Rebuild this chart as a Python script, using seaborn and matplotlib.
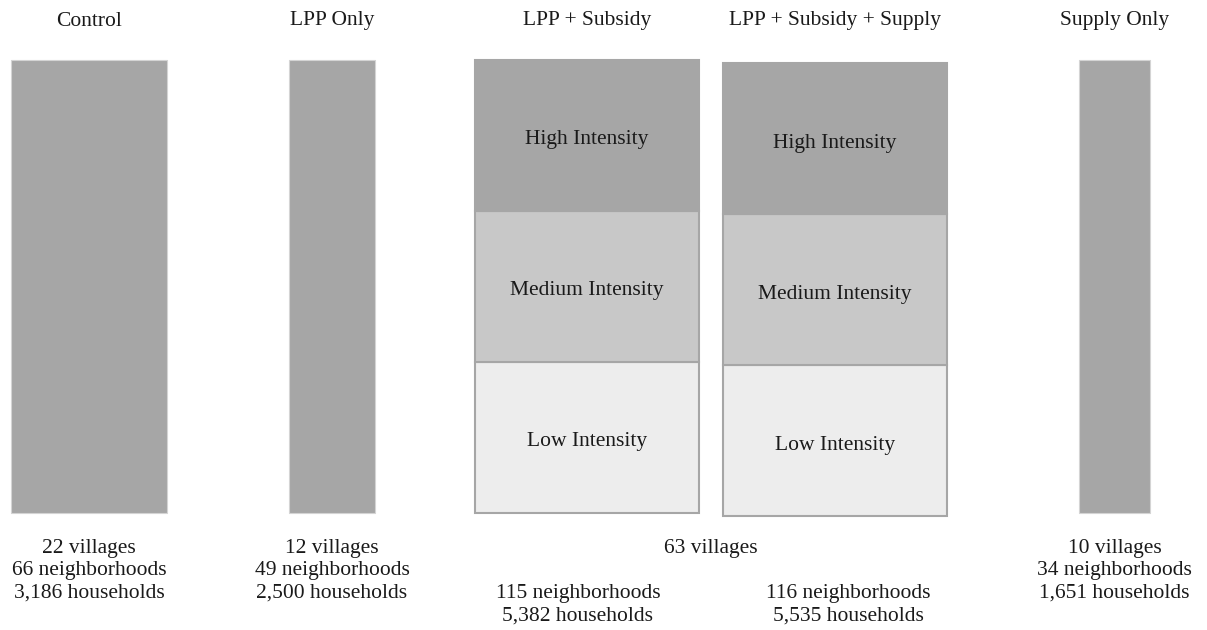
import matplotlib
matplotlib.use("Agg")
import matplotlib.pyplot as plt
import seaborn as sns

sns.set_theme(style="white")
plt.rcParams["font.family"] = ["Liberation Serif", "DejaVu Serif"]

# ---------- data ----------
arms = ["Control", "LPP Only", "LPP + Subsidy", "LPP + Subsidy + Supply", "Supply Only"]
villages = [22, 12, 31.5, 31.5, 10]          # 63 villages shared by the two subsidy arms
neighborhoods = [66, 49, 115, 116, 34]
households = [3186, 2500, 5382, 5535, 1651]
stratified = [False, False, True, True, False]
intensity_levels = ["Low Intensity", "Medium Intensity", "High Intensity"]
pooled_villages = 63

# ---------- layout ----------
PX_PER_VILLAGE = 7.1
centers = [89, 332, 587, 835, 1114.5]
y_offsets = [0, 0, 0, -0.02, 0]
seg_colors = {"Low Intensity": "#ededed", "Medium Intensity": "#c8c8c8", "High Intensity": "#a6a6a6"}
plain_color = "#a6a6a6"
txt_color = "#1a1a1a"
FS = 15.5
LS = 1.22

fig = plt.figure(figsize=(12.07, 6.30), dpi=100)
ax = fig.add_axes([0, 0, 1, 1])
ax.set_xlim(0, 1207)
ax.set_ylim(-0.775, 3.397)
ax.axis("off")
xt = ax.get_xaxis_transform()


def fy(py):
    return 1 - py / 630


for i, arm in enumerate(arms):
    w = villages[i] * PX_PER_VILLAGE
    x = centers[i]
    if stratified[i]:
        for j, lvl in enumerate(intensity_levels):
            b = j + y_offsets[i]
            ax.bar(x, 1, width=w, bottom=b, color=seg_colors[lvl],
                   edgecolor="#a6a6a6", linewidth=1.5)
            ax.text(x, b + 0.5 - 0.03, lvl, ha="center", va="center",
                    fontsize=FS, color=txt_color)
    else:
        ax.bar(x, len(intensity_levels), width=w, bottom=y_offsets[i],
               color=plain_color, edgecolor="#d4d4d4", linewidth=0.8)
    ax.text(x, fy(21), arm, ha="center", va="center", fontsize=FS,
            color=txt_color, transform=xt)

# bottom annotations
for i in range(len(arms)):
    if stratified[i]:
        continue
    ax.text(centers[i], fy(571),
            f"{villages[i]} villages\n{neighborhoods[i]} neighborhoods\n{households[i]:,} households",
            ha="center", va="center", fontsize=FS, color=txt_color,
            linespacing=LS, transform=xt)

pair = [i for i in range(len(arms)) if stratified[i]]
pair_mid = (centers[pair[0]] + centers[pair[1]]) / 2
ax.text(pair_mid, fy(548), f"{pooled_villages} villages", ha="center", va="center",
        fontsize=FS, color=txt_color, transform=xt)
label_x = {pair[0]: 578, pair[1]: 848}
for i in pair:
    ax.text(label_x[i], fy(605),
            f"{neighborhoods[i]} neighborhoods\n{households[i]:,} households",
            ha="center", va="center", fontsize=FS, color=txt_color,
            linespacing=LS, transform=xt)

plt.savefig("out.png", dpi=100)
plt.close()
